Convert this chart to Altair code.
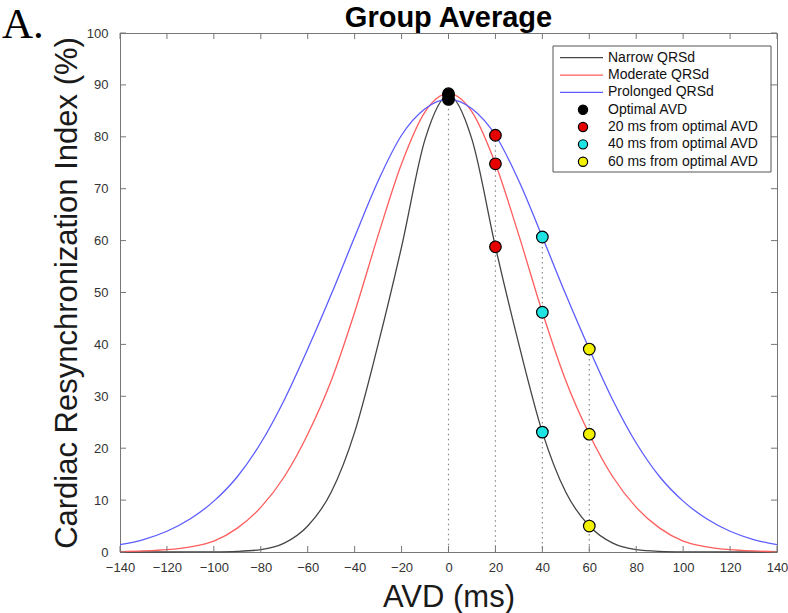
import altair as alt
import pandas as pd

# ---------------- data ----------------
avd = [-140, -130, -120, -110, -100, -90, -80, -70, -60, -50, -40, -30, -20, -10, 0,
       10, 20, 30, 40, 50, 60, 70, 80, 90, 100, 110, 120, 130, 140]

narrow = [0.0, 0.0, 0.0, 0.01, 0.03, 0.12, 0.45, 1.7, 5.0, 11.5, 23.1, 40.0, 58.8, 79.5, 88.0,
          79.5, 58.8, 40.0, 23.1, 11.5, 5.0, 1.7, 0.45, 0.12, 0.03, 0.01, 0.0, 0.0, 0.0]
moderate = [0.08, 0.2, 0.45, 1.0, 2.1, 4.6, 8.6, 14.5, 22.7, 33.0, 46.2, 61.0, 74.8, 84.8, 88.3,
            84.8, 74.8, 61.0, 46.2, 33.0, 22.7, 14.5, 8.6, 4.6, 2.1, 1.0, 0.45, 0.2, 0.08]
prolonged = [1.4, 2.4, 4.0, 6.4, 9.8, 14.5, 21.0, 29.3, 39.1, 49.6, 60.7, 71.5, 80.3, 85.4, 87.2,
             85.4, 80.3, 71.5, 60.7, 49.6, 39.1, 29.3, 21.0, 14.5, 9.8, 6.4, 4.0, 2.4, 1.4]

series_names = ["Narrow QRSd", "Moderate QRSd", "Prolonged QRSd"]
series_colors = ["#444444", "#ff5c5c", "#5c5cff"]

dot_names = ["Optimal AVD", "20 ms from optimal AVD", "40 ms from optimal AVD", "60 ms from optimal AVD"]
dot_colors = ["#000000", "#e60000", "#1ee3e3", "#f2f200"]

dot_x = [0, 0, 0, 20, 20, 20, 40, 40, 40, 60, 60, 60]
dot_y = [88.0, 88.3, 87.2, 58.8, 74.8, 80.3, 23.1, 46.2, 60.7, 5.0, 22.7, 39.1]
dot_group = [0, 0, 0, 1, 1, 1, 2, 2, 2, 3, 3, 3]

drop_x = [0, 20, 40, 60]
drop_top = [88.3, 80.3, 60.7, 39.1]

x_ticks = list(range(-140, 141, 20))
y_ticks = list(range(0, 101, 10))

chart_title = "Group Average"
panel_tag = "A."

# ---------------- tables ----------------
rows = []
for name, vals in zip(series_names, [narrow, moderate, prolonged]):
    for a, v in zip(avd, vals):
        rows.append({"avd": a, "cri": v, "series": name})
curves_df = pd.DataFrame(rows)

dots_df = pd.DataFrame({
    "avd": dot_x, "cri": dot_y,
    "fill": [dot_colors[g] for g in dot_group],
})
drops_df = pd.DataFrame({"avd": drop_x, "cri": drop_top, "zero": [0] * len(drop_x)})
xt_df = pd.DataFrame({"avd": x_ticks})
yt_df = pd.DataFrame({"cri": y_ticks})

legend_df = pd.DataFrame({
    "row": list(range(7)),
    "label": series_names + dot_names,
    "color": series_colors + dot_colors,
    "kind": ["line"] * 3 + ["dot"] * 4,
})

W, H = 657, 519
FONT = "Liberation Sans"
AX = "#777777"

xscale = alt.Scale(domain=[-140, 140], nice=False, zero=False)
yscale = alt.Scale(domain=[0, 100], nice=False, zero=False)

x_axis = alt.Axis(values=x_ticks, tickSize=0, domain=False, grid=False, labelFlush=False,
                  labelOverlap=False,
                  labelFontSize=13, labelPadding=9, labelColor="#333333", labelFont=FONT,
                  title="AVD (ms)", titleFontSize=31, titleFontWeight="normal",
                  titleFont=FONT, titleColor="#1a1a1a", titlePadding=8)
y_axis = alt.Axis(values=y_ticks, tickSize=0, domain=False, grid=False, labelFlush=False,
                  labelOverlap=False,
                  labelFontSize=13, labelPadding=12, labelColor="#333333", labelFont=FONT,
                  title="Cardiac Resynchronization Index (%)", titleFontSize=31,
                  titleFontWeight="normal", titleFont=FONT, titleColor="#1a1a1a",
                  titlePadding=3)

X = alt.X("avd:Q", scale=xscale, axis=x_axis)
Y = alt.Y("cri:Q", scale=yscale, axis=y_axis)

curves = alt.Chart(curves_df).mark_line(strokeWidth=1.3, interpolate="monotone").encode(
    x=X, y=Y,
    color=alt.Color("series:N", scale=alt.Scale(domain=series_names, range=series_colors),
                    legend=None),
    detail="series:N",
)

drops = alt.Chart(drops_df).mark_rule(color="#888888", strokeWidth=1.2,
                                      strokeDash=[1.5, 3.5]).encode(
    x=X, y=Y, y2="zero:Q",
)

dots = alt.Chart(dots_df).mark_point(filled=True, shape="circle", size=135,
                                     stroke="black", strokeWidth=1.2, opacity=1).encode(
    x=X, y=Y,
    fill=alt.Fill("fill:N", scale=None),
)

tick_b = alt.Chart(xt_df).mark_rule(color=AX, strokeWidth=1).encode(
    x=X, y=alt.value(H), y2=alt.value(H - 6))
tick_t = alt.Chart(xt_df).mark_rule(color=AX, strokeWidth=1).encode(
    x=X, y=alt.value(0), y2=alt.value(6))
tick_l = alt.Chart(yt_df).mark_rule(color=AX, strokeWidth=1).encode(
    y=Y, x=alt.value(0), x2=alt.value(6))
tick_r = alt.Chart(yt_df).mark_rule(color=AX, strokeWidth=1).encode(
    y=Y, x=alt.value(W), x2=alt.value(W - 6))

main = alt.layer(curves, drops, dots, tick_b, tick_t, tick_l, tick_r)

# ---------------- legend and titles ----------------
dummy = pd.DataFrame({"a": [0]})
lrow = alt.Scale(domain=[0, 6], range=[24.7, 128.7])

leg_box = alt.Chart(dummy).mark_rect(fill="white", stroke="#555555", strokeWidth=1).encode(
    x=alt.value(433), x2=alt.value(651), y=alt.value(13), y2=alt.value(139))

leg_lines = alt.Chart(legend_df).transform_filter(alt.datum.kind == "line").mark_rule(
    strokeWidth=1.3).encode(
    x=alt.value(440), x2=alt.value(483),
    y=alt.Y("row:Q", scale=lrow, axis=None),
    color=alt.Color("color:N", scale=None),
)
leg_dots = alt.Chart(legend_df).transform_filter(alt.datum.kind == "dot").mark_point(
    filled=True, shape="circle", size=85, stroke="black", strokeWidth=1.2, opacity=1).encode(
    x=alt.value(463),
    y=alt.Y("row:Q", scale=lrow, axis=None),
    fill=alt.Fill("color:N", scale=None),
)
leg_text = alt.Chart(legend_df).mark_text(align="left", baseline="middle", fontSize=14,
                                          font=FONT, color="#111111").encode(
    x=alt.value(488),
    y=alt.Y("row:Q", scale=lrow, axis=None),
    text="label:N",
)

panel_label = alt.Chart(dummy).mark_text(align="left", baseline="alphabetic", fontSize=43,
                                         font="Liberation Serif", color="black").encode(
    x=alt.value(-118), y=alt.value(5), text=alt.value(panel_tag))

title_mark = alt.Chart(dummy).mark_text(align="center", baseline="alphabetic", fontSize=29,
                                        fontWeight="bold", font=FONT, color="black").encode(
    x=alt.value(W / 2), y=alt.value(-6), text=alt.value(chart_title))

legend = alt.layer(leg_box, leg_lines, leg_dots, leg_text, panel_label, title_mark)

chart = alt.layer(main, legend).resolve_scale(y="independent").properties(
    width=W, height=H,
    autosize=alt.AutoSizeParams(type="none"),
    padding={"left": 120, "top": 33, "right": 11, "bottom": 61},
).configure_view(stroke=AX, strokeWidth=1)

chart.save("out.html", embed_options={"renderer": "svg", "actions": False})
